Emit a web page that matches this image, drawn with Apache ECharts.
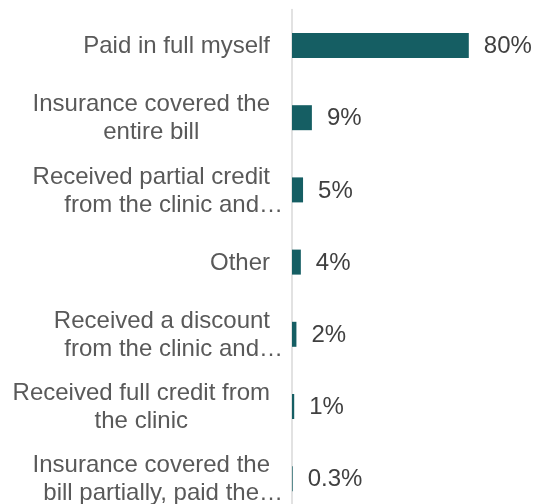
<!DOCTYPE html>
<html>
<head>
<meta charset="utf-8">
<script src="https://cdn.jsdelivr.net/npm/echarts@6/dist/echarts.min.js"></script>
<style>
  html, body { margin: 0; padding: 0; background: #ffffff; overflow: hidden; }
  /* the last row runs past the bottom edge of the page */
  #chart { width: 535px; height: 520px; }
</style>
</head>
<body>
<div id="chart"></div>
<script>
// How the bill was paid (share of respondents, %)
const categories = [
  'Paid in full myself',
  'Insurance covered the\nentire bill',
  'Received partial credit\nfrom the clinic and…',
  'Other',
  'Received a discount\nfrom the clinic and…',
  'Received full credit from\nthe clinic',
  'Insurance covered the\nbill partially, paid the…'
];
const shares = [80, 9, 5, 4, 2, 1, 0.3];
const shareLabels = ['80%', '9%', '5%', '4%', '2%', '1%', '0.3%'];

const FONT = '"Liberation Sans", Arial, sans-serif';
const TEXT_STYLE = { fontFamily: FONT, fontSize: 24, lineHeight: 28, color: '#595959' };

const chart = echarts.init(document.getElementById('chart'), null, { renderer: 'canvas' });

chart.setOption({
  animation: false,
  backgroundColor: '#ffffff',
  grid: { left: 292, right: 22, top: 9.4, bottom: 5.2, containLabel: false },
  xAxis: {
    type: 'value',
    min: 0,
    max: 100,
    show: false,
    splitLine: { show: false }
  },
  yAxis: {
    type: 'category',
    inverse: true,
    data: categories,
    axisLine: { show: true, lineStyle: { color: '#d9d9d9', width: 1.5 } },
    axisTick: { show: false },
    axisLabel: {
      margin: 9,
      align: 'right',
      fontFamily: FONT,
      fontSize: 24,
      color: '#595959',
      // lines are centred in their block; a truncated last line hangs to the right
      formatter: function (v) {
        return v.split('\n').map(function (s, i) {
          const truncated = i > 0 && s.slice(-1) === '…';
          return (truncated ? '{e|' : '{c|') + s + '}';
        }).join('\n');
      },
      rich: {
        c: Object.assign({ align: 'center', padding: [2, 13, 0, 0] }, TEXT_STYLE),
        e: Object.assign({ align: 'right', padding: [2, 0, 0, 0] }, TEXT_STYLE)
      }
    }
  },
  series: [{
    type: 'bar',
    data: shares,
    barWidth: 25,
    itemStyle: { color: '#155e63' },
    label: {
      show: true,
      position: 'right',
      distance: 15,
      fontFamily: FONT,
      fontSize: 24,
      color: '#404040',
      offset: [0, 1],
      formatter: function (p) { return shareLabels[p.dataIndex]; }
    }
  }]
});
</script>
</body>
</html>
